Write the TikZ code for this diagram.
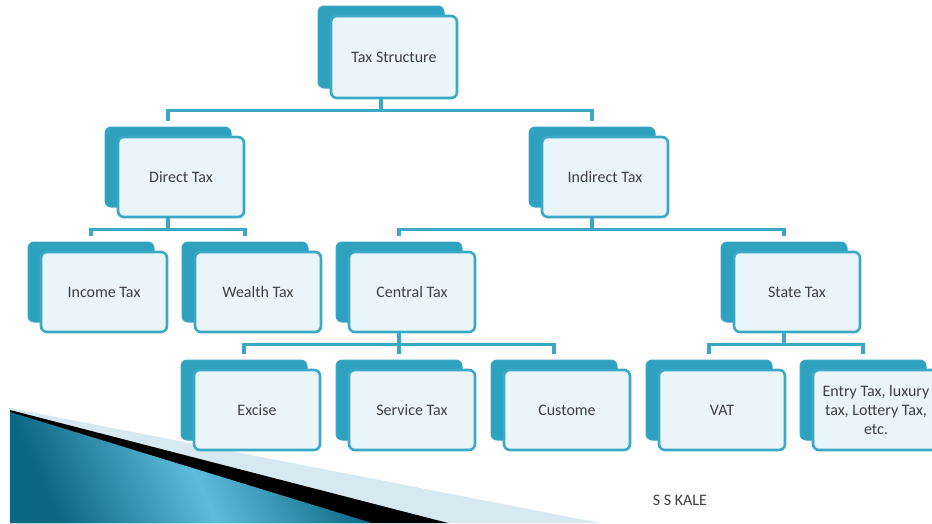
\documentclass[tikz,border=0pt]{standalone}
\usepackage{fontspec}
\setmainfont{Carlito}
\usetikzlibrary{shadows}

\definecolor{backfill}{HTML}{2EA1BF}
\definecolor{boxline}{HTML}{3BA8C5}
\definecolor{boxfill}{HTML}{EAF5FA}
\definecolor{txt}{HTML}{3F3F3F}
\definecolor{deepblue}{HTML}{0B6784}
\definecolor{paleblue}{HTML}{5DBCDB}
\definecolor{haze}{HTML}{D7E9F0}

\begin{document}
\begin{tikzpicture}[x=1pt,y=-1pt]
	\tikzstyle{box}=[rectangle, rounded corners=6pt, draw=boxline, line width=2.6pt, fill=boxfill,
		minimum width=126pt, minimum height=80pt, align=center, text=txt,
		font=\fontsize{16}{19}\selectfont,
		copy shadow={shadow xshift=-13pt, shadow yshift=10pt, fill=backfill, draw=boxline, line width=1pt}]
	\tikzstyle{conn}=[draw=boxline, line width=3.6pt]

	\clip (0,0) rectangle (932,523);

	% slide corner
	\fill[haze] (10,408) -- (600,523) -- (10,523) -- cycle;
	\fill[black] (10,410) -- (448,523) -- (10,523) -- cycle;
	\shade[left color=deepblue, right color=deepblue, middle color=paleblue, shading angle=115]
		(10,412) -- (372,523) -- (10,523) -- cycle;

	\node[box, minimum height=82pt] (ts) at (394,57) {Tax Structure};

	\node[box] (dt) at (181,177) {Direct Tax};
	\node[box] (it) at (605,177) {Indirect Tax};

	\node[box] (inc) at (104,292) {Income Tax};
	\node[box] (wt) at (258,292) {Wealth Tax};
	\node[box] (ct) at (412,292) {Central Tax};
	\node[box] (st) at (797,292) {State Tax};

	\node[box] (ex) at (257,410) {Excise};
	\node[box] (sv) at (412,410) {Service Tax};
	\node[box] (cu) at (567,410) {Custome};
	\node[box] (vat) at (722,410) {VAT};
	\node[box] (et) at (876,410) {Entry Tax, luxury\\tax, Lottery Tax,\\etc.};

	\foreach \from/\to in {ts/dt,ts/it,dt/inc,dt/wt,it/ct,it/st,ct/ex,ct/sv,ct/cu,st/vat,st/et}
		\draw[conn] ([xshift=-13pt]\from.south) -- ++(0,11) -| ([xshift=-13pt,yshift=15pt]\to.north);

	\node[text=txt, font=\fontsize{16}{19}\selectfont] (ka) at (680,500) {S S KALE};
\end{tikzpicture}
\end{document}
